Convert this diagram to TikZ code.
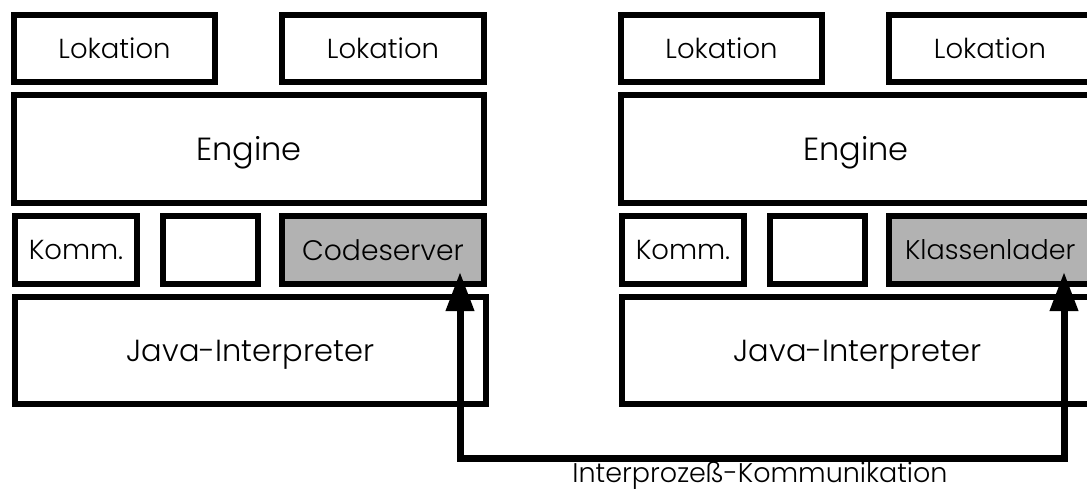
\documentclass[tikz,border=0pt]{standalone}
\usepackage{fontspec}
\setmainfont{Poppins Light}
\usetikzlibrary{arrows.meta}
\definecolor{fillgray}{gray}{0.70}
\tikzset{
  frame/.style={draw=black, line width=6pt, inner sep=0pt, outer sep=0pt,
    anchor=center, align=center, text depth=0pt},
  txtLok/.style={font=\fontsize{27.5}{30}\selectfont, text height=19pt},
  txtEng/.style={font=\fontsize{32}{36}\selectfont, text height=22pt},
  txtJava/.style={font=\fontsize{30.5}{34}\selectfont, text height=21pt},
  txtKomm/.style={font=\fontsize{27.5}{30}\selectfont, text height=19pt},
  txtCode/.style={font=\fontsize{28.2}{31}\selectfont, text height=20pt},
  txtKlass/.style={font=\fontsize{27}{30}\selectfont, text height=19pt},
  shaded/.style={fill=fillgray},
  ipcline/.style={line width=7pt, line join=miter,
    {Triangle[length=39pt,width=27pt]}-{Triangle[length=39pt,width=27pt]}}
}
\begin{document}
\begin{tikzpicture}[x=1pt,y=-1pt]
\useasboundingbox (0,0) rectangle (1087,491);
\clip (0,0) rectangle (1087,491);
\fill[white] (0,0) rectangle (1087,491);

% left process
\node[frame,txtLok,minimum width=201pt,minimum height=67pt] (lokA) at (114.5,48.5) {Lokation};
\node[frame,txtLok,minimum width=202pt,minimum height=67pt] (lokB) at (383,48.5) {Lokation};
\node[frame,txtEng,minimum width=470pt,minimum height=108pt] (engA) at (249,149) {Engine};
\node[frame,txtKomm,minimum width=122pt,minimum height=68pt] (komA) at (76,250) {Komm.};
\node[frame,minimum width=95pt,minimum height=68pt] (empA) at (210.5,250) {};
\node[frame,shaded,txtCode,minimum width=202pt,minimum height=68pt] (cs) at (383,250) {Codeserver};
\node[frame,txtJava,minimum width=471pt,minimum height=107pt] (jvmA) at (250.5,350.5) {Java-Interpreter};

% right process
\node[frame,txtLok,minimum width=201pt,minimum height=67pt] (lokC) at (721.5,48.5) {Lokation};
\node[frame,txtLok,minimum width=202pt,minimum height=67pt] (lokD) at (990,48.5) {Lokation};
\node[frame,txtEng,minimum width=470pt,minimum height=108pt] (engB) at (856,149) {Engine};
\node[frame,txtKomm,minimum width=122pt,minimum height=68pt] (komB) at (683,250) {Komm.};
\node[frame,minimum width=95pt,minimum height=68pt] (empB) at (817.5,250) {};
\node[frame,shaded,txtKlass,minimum width=202pt,minimum height=68pt,text width=170pt,align=left] (kl) at (990,250) {Klassenlader};
\node[frame,txtJava,minimum width=471pt,minimum height=107pt] (jvmB) at (857.5,350.5) {Java-Interpreter};

% inter-process link
\coordinate (csT) at (460,272);
\coordinate (klT) at (1064,272);
\coordinate (bus) at (460,458);
\draw[ipcline] (csT) -- (bus) -| (klT);
\node[anchor=base,font=\fontsize{27}{30}\selectfont] (ipc) at (760,482) {Interprozeß-Kommunikation};
\end{tikzpicture}
\end{document}
